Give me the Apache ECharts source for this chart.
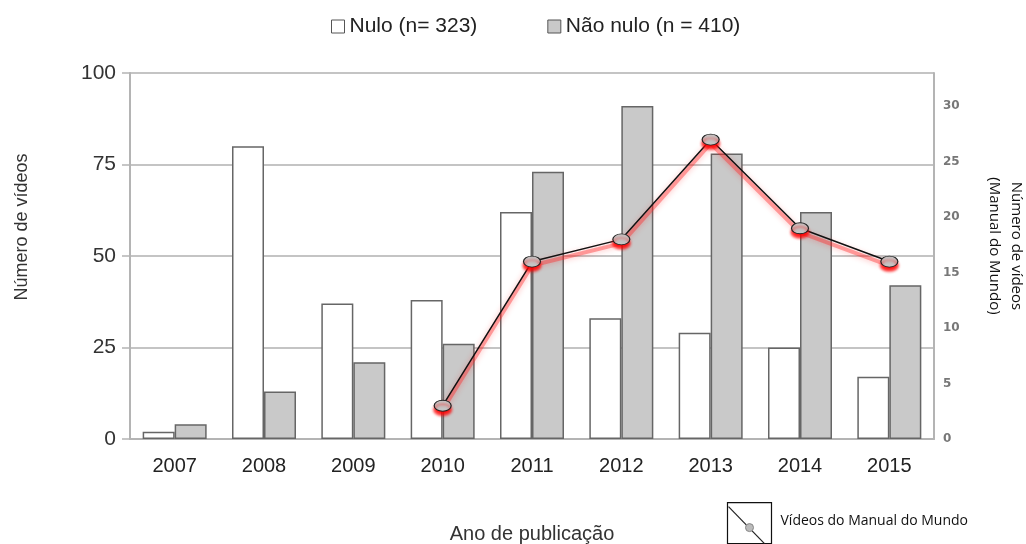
<!DOCTYPE html>
<html>
<head>
<meta charset="utf-8">
<script src="https://cdn.jsdelivr.net/npm/echarts@6/dist/echarts.min.js"></script>
<style>
html, body { margin: 0; padding: 0; background: #fff; }
#chart { width: 1026px; height: 544px; }
</style>
</head>
<body>
<div id="chart"></div>
<script>
var anos = ['2007', '2008', '2009', '2010', '2011', '2012', '2013', '2014', '2015'];
var nulo = [2, 80, 37, 38, 62, 33, 29, 25, 17];
var naoNulo = [4, 13, 21, 26, 73, 91, 78, 62, 42];
var manualDoMundo = ['-', '-', '-', 3, 16, 18, 27, 19, 16];

var myChart = echarts.init(document.getElementById('chart'));

// marcador eliptico da linha
var elipse = 'path://M0,5a8,5 0 1,0 16,0a8,5 0 1,0 -16,0z';

option = {
    animation: false,
    legend: {
        data: ['Nulo (n= 323)', 'Não nulo (n = 410)'],
        top: 11,
        left: 326,
        itemWidth: 13,
        itemHeight: 13,
        itemGap: 70,
        icon: 'rect',
        itemStyle: {
            borderColor: '#555',
            borderWidth: 1
        },
        textStyle: {
            fontFamily: 'Liberation Sans',
            fontSize: 21,
            color: '#222'
        }
    },
    grid: {
        left: 130,
        right: 92,
        top: 73,
        bottom: 105,
        outerBoundsMode: 'none'
    },
    xAxis: {
        type: 'category',
        data: anos,
        name: 'Ano de publicação',
        nameLocation: 'middle',
        nameGap: 85,
        nameTextStyle: {
            fontFamily: 'Liberation Sans',
            fontSize: 20,
            color: '#333'
        },
        axisLine: {
            lineStyle: { color: '#b4b4b4', width: 2 }
        },
        axisTick: {
            length: 6,
            lineStyle: { color: '#b4b4b4', width: 1.5 }
        },
        axisLabel: {
            fontFamily: 'Liberation Sans',
            fontSize: 20,
            color: '#222',
            margin: 17
        }
    },
    yAxis: [{
        type: 'value',
        min: 0,
        max: 100,
        interval: 25,
        name: 'Número de vídeos',
        nameLocation: 'middle',
        nameGap: 99,
        nameTextStyle: {
            fontFamily: 'Liberation Sans',
            fontSize: 18,
            color: '#333',
            padding: [0, 0, 0, 58]
        },
        axisLine: {
            show: true,
            lineStyle: { color: '#b4b4b4', width: 2 }
        },
        axisTick: {
            show: true,
            length: 8,
            lineStyle: { color: '#b4b4b4', width: 1.5 }
        },
        axisLabel: {
            fontFamily: 'Liberation Sans',
            fontSize: 21,
            color: '#333',
            margin: 14
        },
        splitLine: {
            lineStyle: { color: '#c4c4c4', width: 2 }
        }
    }, {
        type: 'value',
        min: 0,
        max: 33,
        interval: 5,
        position: 'right',
        name: 'Número de vídeos\n(Manual do Mundo)',
        nameLocation: 'middle',
        nameRotate: -90,
        nameGap: 49,
        nameTextStyle: {
            fontFamily: 'Open Sans',
            fontSize: 15,
            color: '#111',
            lineHeight: 22,
            padding: [0, 20, 0, 0]
        },
        axisLine: {
            show: true,
            lineStyle: { color: '#b4b4b4', width: 2 }
        },
        axisTick: { show: false },
        axisLabel: {
            showMaxLabel: false,
            fontFamily: 'DejaVu Sans',
            fontWeight: 'bold',
            fontSize: 12,
            color: '#777',
            margin: 9
        },
        splitLine: { show: false }
    }, {
        // eixo escondido, deslocado ~4px para baixo, so para o brilho
        type: 'value',
        show: false,
        min: 0.36,
        max: 33.36,
        position: 'right'
    }],
    series: [{
        name: 'Nulo (n= 323)',
        type: 'bar',
        data: nulo,
        barWidth: 32,
        barGap: '0%',
        itemStyle: {
            color: '#ffffff',
            borderColor: '#666',
            borderWidth: 1.5
        }
    }, {
        name: 'Não nulo (n = 410)',
        type: 'bar',
        data: naoNulo,
        barWidth: 32,
        barGap: '0%',
        itemStyle: {
            color: '#c9c9c9',
            borderColor: '#666',
            borderWidth: 1.5
        }
    }, {
        // brilho vermelho por baixo da linha
        name: 'brilho',
        type: 'line',
        yAxisIndex: 2,
        data: manualDoMundo,
        symbol: 'none',
        z: 4,
        silent: true,
        lineStyle: {
            color: 'rgba(255,40,40,0.4)',
            width: 4,
            shadowColor: 'rgba(255,0,0,0.7)',
            shadowBlur: 6
        }
    }, {
        name: 'Vídeos do Manual do Mundo',
        type: 'line',
        yAxisIndex: 1,
        data: manualDoMundo,
        symbol: elipse,
        symbolSize: [17, 11],
        z: 5,
        emphasis: { disabled: true },
        lineStyle: {
            color: '#111',
            width: 1.5
        },
        itemStyle: {
            color: '#c4c4c4',
            borderColor: '#222',
            borderWidth: 1,
            shadowColor: 'rgba(255,0,0,0.9)',
            shadowBlur: 3,
            shadowOffsetY: 4
        }
    }],
    graphic: [{
        type: 'group',
        left: 726,
        top: 502,
        children: [{
            type: 'rect',
            shape: { x: 0, y: 0, width: 44, height: 41 },
            style: { fill: '#fff', stroke: '#111', lineWidth: 1.2 }
        }, {
            type: 'line',
            shape: { x1: 1, y1: 4, x2: 37, y2: 41 },
            style: { stroke: '#222', lineWidth: 1.2 }
        }, {
            type: 'circle',
            shape: { cx: 22, cy: 25, r: 4 },
            style: { fill: '#bbb', stroke: '#888', lineWidth: 1 }
        }, {
            type: 'text',
            x: 53,
            y: 11,
            style: {
                text: 'Vídeos do Manual do Mundo',
                fontFamily: 'Open Sans',
                fontSize: 14,
                fill: '#111'
            }
        }]
    }]
};

myChart.setOption(option);
</script>
</body>
</html>
